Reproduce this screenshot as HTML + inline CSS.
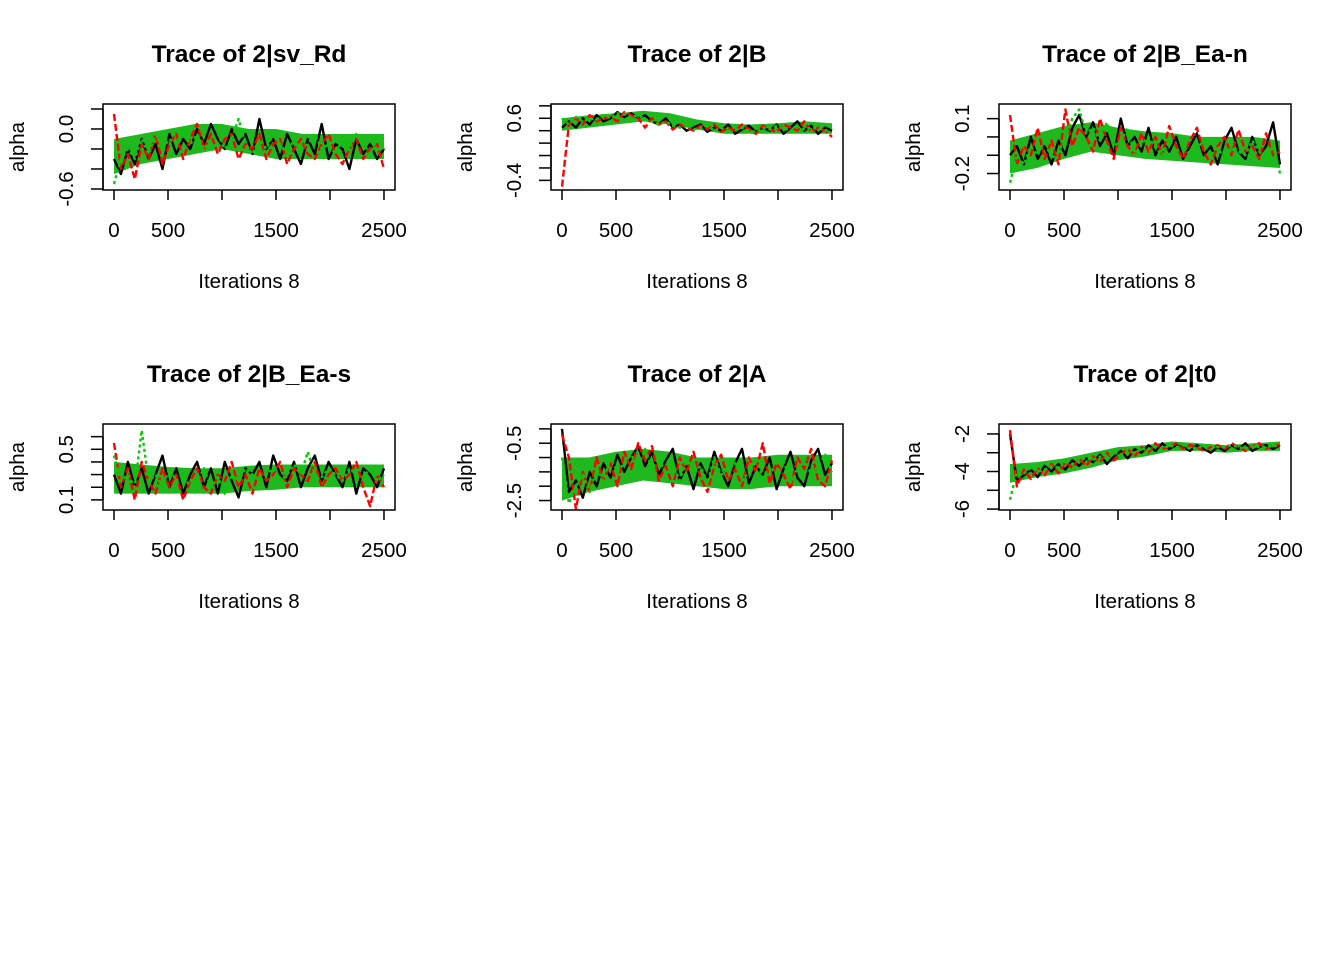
<!DOCTYPE html>
<html><head><meta charset="utf-8"><style>
html,body{margin:0;padding:0;background:#fff}
svg{display:block}
text{font-family:"Liberation Sans",Arial,sans-serif;fill:#000}
</style></head><body>
<svg id="chart" width="1344" height="960" viewBox="0 0 1344 960" xmlns="http://www.w3.org/2000/svg"></svg>
<script>
const titles = ["Trace of 2|sv_Rd","Trace of 2|B","Trace of 2|B_Ea-n","Trace of 2|B_Ea-s","Trace of 2|A","Trace of 2|t0"];
const xTicks = [0,500,1000,1500,2000,2500];
const xTickLabels = ["0","500","","1500","","2500"];
const yTicks = [[0.2,0,-0.2,-0.4,-0.6],[0.8,0.6,0.4,0.2,0,-0.2,-0.4],[0.1,0,-0.1,-0.2],[0.6,0.5,0.4,0.3,0.2,0.1],[0,-0.5,-1,-1.5,-2,-2.5],[-2,-3,-4,-5,-6]];
const yTickLabels = [["","0.0","","","-0.6"],["","0.6","","","","","-0.4"],["0.1","","","-0.2"],["","0.5","","","","0.1"],["","-0.5","","","","-2.5"],["-2","","-4","","-6"]];
const yRanges = [[-0.61,0.25],[-0.555,0.83],[-0.29,0.18],[0.02,0.7],[-2.83,0.17],[-6.05,-1.47]];
const bandLow = [
[-0.45,-0.35,-0.3,-0.25,-0.2,-0.25,-0.3,-0.3,-0.3,-0.3,-0.3],
[0.4,0.45,0.5,0.55,0.5,0.42,0.35,0.35,0.35,0.35,0.35],
[-0.2,-0.17,-0.12,-0.08,-0.1,-0.12,-0.13,-0.14,-0.15,-0.16,-0.17],
[0.15,0.15,0.15,0.15,0.15,0.17,0.18,0.2,0.2,0.2,0.2],
[-2.5,-2.2,-2.0,-1.8,-1.9,-2.0,-2.1,-2.1,-2.0,-2.0,-2.0],
[-4.6,-4.3,-4.1,-3.8,-3.4,-3.2,-2.9,-2.9,-3.0,-2.9,-2.9]];
const bandHigh = [
[-0.1,-0.05,0.0,0.05,0.05,0.0,0.0,-0.05,-0.05,-0.05,-0.05],
[0.6,0.65,0.68,0.72,0.68,0.58,0.52,0.5,0.52,0.55,0.52],
[-0.02,0.02,0.06,0.08,0.05,0.03,0.02,0.0,0.0,0.0,-0.02],
[0.4,0.38,0.36,0.35,0.35,0.37,0.38,0.38,0.38,0.38,0.38],
[-1.0,-1.0,-0.8,-0.7,-0.8,-1.0,-1.0,-1.0,-0.9,-0.9,-0.9],
[-3.6,-3.5,-3.3,-3.0,-2.7,-2.6,-2.4,-2.5,-2.6,-2.5,-2.4]];
const blackChain = [
[-0.3,-0.45,-0.2,-0.35,-0.1,-0.3,-0.15,-0.4,-0.05,-0.25,-0.1,-0.2,0.0,-0.15,0.05,-0.1,-0.2,0.0,-0.15,-0.05,-0.25,0.1,-0.2,-0.1,-0.3,-0.05,-0.2,-0.35,-0.1,-0.25,0.05,-0.3,-0.15,-0.2,-0.4,-0.1,-0.25,-0.15,-0.3,-0.2],
[0.45,0.55,0.45,0.6,0.5,0.65,0.55,0.6,0.7,0.62,0.68,0.6,0.65,0.55,0.5,0.6,0.45,0.5,0.4,0.45,0.5,0.38,0.45,0.4,0.5,0.35,0.42,0.48,0.38,0.45,0.4,0.5,0.35,0.45,0.55,0.4,0.48,0.35,0.45,0.4],
[-0.1,-0.05,-0.15,0.0,-0.12,-0.05,-0.15,-0.02,-0.1,0.05,0.12,0.0,0.08,-0.05,0.02,-0.1,0.1,-0.05,0.0,-0.08,0.05,-0.1,-0.02,-0.08,0.0,-0.12,-0.05,0.02,-0.1,-0.05,-0.15,-0.02,0.05,-0.08,-0.12,0.0,-0.1,-0.05,0.08,-0.15],
[0.3,0.15,0.4,0.2,0.35,0.15,0.3,0.45,0.2,0.35,0.15,0.3,0.4,0.2,0.35,0.15,0.4,0.25,0.12,0.35,0.3,0.4,0.2,0.45,0.3,0.25,0.4,0.2,0.35,0.45,0.25,0.4,0.3,0.2,0.4,0.15,0.35,0.3,0.2,0.35],
[0.0,-2.2,-1.8,-2.4,-1.5,-2.0,-1.2,-1.7,-0.9,-1.5,-1.0,-0.6,-1.3,-0.8,-1.6,-1.1,-0.7,-1.8,-1.3,-2.1,-1.2,-1.7,-0.8,-1.5,-2.0,-1.2,-0.7,-1.9,-1.3,-1.6,-1.0,-2.1,-1.4,-0.8,-1.7,-2.0,-1.1,-0.7,-1.6,-1.2],
[-2.0,-4.5,-4.2,-3.9,-4.3,-3.7,-4.0,-3.6,-3.9,-3.4,-3.7,-3.3,-3.5,-3.1,-3.6,-3.2,-2.9,-3.3,-2.8,-3.0,-2.6,-2.9,-2.5,-2.8,-2.6,-2.7,-2.9,-2.6,-2.8,-3.0,-2.7,-2.9,-2.6,-2.8,-2.5,-2.9,-2.7,-2.6,-2.8,-2.6]];
const redChain = [
[0.15,-0.4,-0.25,-0.5,-0.15,-0.3,-0.05,-0.35,-0.15,-0.05,-0.3,-0.1,0.05,-0.2,-0.05,-0.25,-0.1,-0.05,-0.3,-0.15,-0.2,-0.05,-0.3,-0.15,-0.1,-0.35,-0.2,-0.1,-0.25,-0.3,-0.15,-0.05,-0.25,-0.35,-0.2,-0.1,-0.3,-0.2,-0.15,-0.4],
[-0.5,0.5,0.6,0.5,0.65,0.55,0.6,0.62,0.55,0.7,0.65,0.6,0.45,0.6,0.5,0.55,0.42,0.5,0.45,0.4,0.48,0.42,0.5,0.38,0.45,0.4,0.5,0.42,0.35,0.48,0.42,0.38,0.5,0.45,0.4,0.55,0.38,0.45,0.4,0.3],
[0.12,-0.15,-0.05,-0.1,0.05,-0.12,-0.02,-0.15,0.15,-0.05,0.05,0.0,-0.08,0.1,-0.02,-0.12,0.05,-0.05,-0.1,0.02,-0.08,0.0,-0.1,0.06,-0.05,-0.12,-0.02,0.05,-0.08,-0.15,-0.05,0.0,-0.1,0.04,-0.08,-0.05,-0.12,0.02,-0.1,-0.08],
[0.55,0.2,0.35,0.1,0.4,0.25,0.15,0.35,0.2,0.3,0.1,0.25,0.35,0.2,0.15,0.3,0.25,0.4,0.2,0.3,0.15,0.35,0.25,0.3,0.4,0.2,0.35,0.3,0.25,0.4,0.2,0.3,0.35,0.25,0.3,0.4,0.2,0.05,0.3,0.2],
[-0.2,-1.0,-2.8,-1.5,-2.2,-1.0,-1.8,-1.2,-2.0,-0.8,-1.4,-0.5,-1.1,-0.6,-1.8,-1.3,-2.0,-1.0,-1.5,-0.8,-1.7,-2.2,-1.3,-0.9,-1.8,-1.4,-2.0,-1.0,-1.5,-0.5,-1.9,-1.2,-1.6,-2.1,-1.0,-1.4,-0.7,-1.8,-2.0,-1.1],
[-1.8,-4.8,-3.9,-4.4,-3.8,-4.2,-3.6,-4.1,-3.5,-3.8,-3.3,-3.7,-3.2,-3.5,-3.0,-3.4,-3.1,-2.8,-3.2,-2.7,-3.0,-2.5,-2.8,-2.7,-2.5,-2.8,-2.6,-2.7,-2.9,-2.7,-2.6,-2.8,-2.5,-2.7,-2.9,-2.6,-2.5,-2.8,-2.6,-2.6]];
const greenChain = [
[-0.55,-0.3,-0.2,-0.3,-0.1,-0.25,-0.05,-0.2,-0.1,-0.15,0.0,-0.15,-0.05,-0.2,-0.1,-0.05,-0.2,-0.1,0.1,-0.15,-0.25,-0.1,-0.2,-0.05,-0.15,-0.25,-0.1,-0.2,-0.15,-0.05,-0.2,-0.15,-0.25,-0.1,-0.2,-0.05,-0.15,-0.25,-0.1,-0.2],
[0.6,0.5,0.62,0.55,0.6,0.58,0.65,0.6,0.68,0.66,0.62,0.65,0.58,0.55,0.5,0.55,0.48,0.45,0.5,0.42,0.45,0.48,0.4,0.45,0.35,0.42,0.45,0.4,0.38,0.45,0.42,0.48,0.44,0.4,0.46,0.42,0.45,0.44,0.4,0.45],
[-0.25,-0.1,-0.15,-0.05,-0.1,-0.02,-0.12,-0.08,0.0,0.1,0.15,0.02,0.05,-0.02,0.08,-0.05,-0.02,0.05,-0.1,-0.04,0.0,-0.06,-0.1,-0.02,-0.08,-0.04,-0.1,-0.06,-0.02,-0.1,-0.06,-0.12,-0.04,-0.08,-0.1,-0.02,-0.08,-0.12,-0.04,-0.2],
[0.45,0.25,0.3,0.2,0.65,0.25,0.3,0.2,0.35,0.25,0.3,0.2,0.25,0.35,0.2,0.28,0.15,0.3,0.25,0.35,0.3,0.25,0.3,0.35,0.25,0.3,0.38,0.3,0.48,0.3,0.28,0.35,0.3,0.25,0.35,0.3,0.28,0.35,0.25,0.3],
[-1.0,-2.6,-2.0,-1.6,-2.2,-1.4,-1.8,-1.0,-1.5,-1.2,-0.9,-1.3,-0.7,-1.4,-1.0,-1.6,-1.2,-1.8,-1.1,-1.5,-1.3,-1.9,-1.0,-1.6,-1.4,-1.2,-1.8,-1.5,-1.0,-1.7,-1.3,-1.6,-1.1,-1.9,-1.4,-1.0,-1.6,-1.3,-0.9,-1.5],
[-5.5,-4.0,-4.1,-3.8,-4.0,-3.9,-3.7,-3.8,-3.5,-3.6,-3.4,-3.3,-3.4,-3.2,-3.3,-3.0,-3.1,-2.9,-3.0,-2.8,-2.8,-2.7,-2.8,-2.6,-2.7,-2.6,-2.8,-2.7,-2.7,-2.8,-2.7,-2.7,-2.6,-2.7,-2.8,-2.6,-2.7,-2.7,-2.6,-2.7]];
const maxIter = 2500;

const svg = document.getElementById('chart');
const NS = 'http://www.w3.org/2000/svg';
function mk(tag, attrs, parent){const e=document.createElementNS(NS,tag);for(const k in attrs)e.setAttribute(k,attrs[k]);parent.appendChild(e);return e;}

titles.forEach((title,p)=>{
  const col=p%3,row=Math.floor(p/3);
  const L=103+448*col,R=L+292,T=104+320*row,B=T+86;
  const g=mk('g',{},svg);
  
  
  const xs=v=>L+(v+102)/(2704)*(R-L);
  const [y0,y1]=yRanges[p];
  const ys=v=>B-(v-y0)/(y1-y0)*(B-T);
  // density band
  const lo=bandLow[p],hi=bandHigh[p],nb=lo.length;
  const up=hi.map((v,i)=>xs(i*maxIter/(nb-1)).toFixed(1)+','+ys(v).toFixed(1));
  const dn=lo.map((v,i)=>xs(i*maxIter/(nb-1)).toFixed(1)+','+ys(v).toFixed(1)).reverse();
  const band=mk('polygon',{points:up.concat(dn).join(' '),fill:'#1fb81f',stroke:'none'},g);
  
  
  const chains=[[blackChain[p],'#000','none','chain-1-line'],[redChain[p],'#ff0000','7,3','chain-2-line'],[greenChain[p],'#00cd00','3,3','chain-3-line']];
  chains.forEach(([vals,color,dash,name])=>{
    const n=vals.length;
    const pts=vals.map((v,i)=>xs(i*maxIter/(n-1)).toFixed(1)+','+ys(v).toFixed(1)).join(' ');
    const pl=mk('polyline',{points:pts,fill:'none',stroke:color,'stroke-width':2.4,'stroke-dasharray':dash,'stroke-linejoin':'round'},g);
    
    
  });
  const box=mk('rect',{x:L,y:T,width:R-L,height:B-T,fill:'none',stroke:'#000','stroke-width':1.5},g);
  
  
  xTicks.forEach((t,i)=>{
    const x=xs(t);
    mk('line',{x1:x,y1:B,x2:x,y2:B+10,stroke:'#000','stroke-width':1.5},g);
    if(xTickLabels[i]){const tx=mk('text',{x:x,y:B+47,'text-anchor':'middle','font-size':20.5},g);tx.textContent=xTickLabels[i];
    
    }
  });
  yTicks[p].forEach((t,i)=>{
    const y=ys(t);
    mk('line',{x1:L-12,y1:y,x2:L,y2:y,stroke:'#000','stroke-width':1.5},g);
    const lab=yTickLabels[p][i];
    if(lab){const tx=mk('text',{x:0,y:0,transform:`translate(${L-30},${y}) rotate(-90)`,'text-anchor':'middle','font-size':20.5},g);tx.textContent=lab;
    
    }
  });
  mk('line',{x1:L,y1:ys(yTicks[p][0]),x2:L,y2:ys(yTicks[p][yTicks[p].length-1]),stroke:'#000','stroke-width':1.5},g);
  const tt=mk('text',{x:(L+R)/2,y:T-42,'text-anchor':'middle','font-size':24.5,'font-weight':'bold'},g);tt.textContent=title;
  
  
  const xl=mk('text',{x:(L+R)/2,y:B+98,'text-anchor':'middle','font-size':20.5},g);xl.textContent='Iterations 8';
  
  
  const yl=mk('text',{x:0,y:0,transform:`translate(${L-79},${(T+B)/2}) rotate(-90)`,'text-anchor':'middle','font-size':20.5},g);yl.textContent='alpha';
  
  
});
</script>
</body></html>
